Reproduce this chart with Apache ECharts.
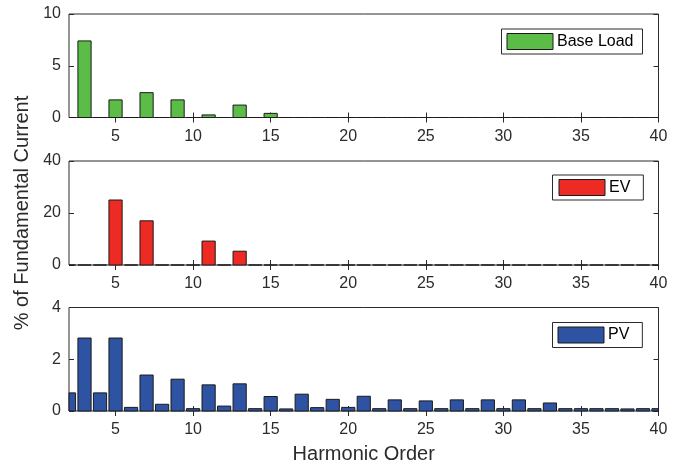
<!DOCTYPE html>
<html>
<head>
<meta charset="utf-8">
<script src="https://cdn.jsdelivr.net/npm/echarts@6/dist/echarts.min.js"></script>
<style>
  html, body { margin: 0; padding: 0; background: #fff; }
  #chart { width: 681px; height: 466px; }
</style>
</head>
<body>
<div id="chart"></div>
<script>
// Harmonic orders 2..40
const harmonics = [2, 3, 4, 5, 6, 7, 8, 9, 10, 11, 12, 13, 14, 15, 16, 17, 18, 19, 20,
  21, 22, 23, 24, 25, 26, 27, 28, 29, 30, 31, 32, 33, 34, 35, 36, 37, 38, 39, 40];

// Harmonic current spectra, % of fundamental
const baseLoad = [0, 7.4, 0, 1.7, 0, 2.4, 0, 1.7, 0, 0.25, 0, 1.2, 0, 0.4,
  0, 0, 0, 0, 0, 0, 0, 0, 0, 0, 0, 0, 0, 0, 0, 0, 0, 0, 0, 0, 0, 0, 0, 0, 0];
const ev = [0, 0, 0, 25, 0, 17, 0, 0, 0, 9.2, 0, 5.3,
  0, 0, 0, 0, 0, 0, 0, 0, 0, 0, 0, 0, 0, 0, 0, 0, 0, 0, 0, 0, 0, 0, 0, 0, 0, 0, 0];
const pv = [0.70, 2.82, 0.70, 2.82, 0.14, 1.39, 0.26, 1.23, 0.09, 1.01, 0.19, 1.05, 0.09, 0.56,
  0.08, 0.65, 0.13, 0.45, 0.14, 0.57, 0.09, 0.43, 0.09, 0.39, 0.09, 0.43, 0.09, 0.43,
  0.09, 0.43, 0.09, 0.31, 0.09, 0.09, 0.09, 0.09, 0.08, 0.09, 0.09];

// Axis ticks
const xTicks = [5, 10, 15, 20, 25, 30, 35, 40];
const yRanges = [
  { max: 10, interval: 5 },
  { max: 40, interval: 20 },
  { max: 4, interval: 2 }
];

const seriesNames = ['Base Load', 'EV', 'PV'];
const seriesValues = [baseLoad, ev, pv];
const seriesColors = ['#5CBC48', '#EE2A24', '#2F53A3'];

const FONT = 'Liberation Sans, Arial, Helvetica, sans-serif';
const INK = '#2b2b2b';
const EDGE = '#1a1a1a';
const BAR_FRACTION = 0.85;

const grids = [
  { left: 69, width: 589.5, top: 14, height: 103.5 },
  { left: 69, width: 589.5, top: 161, height: 104 },
  { left: 69, width: 589.5, top: 307.5, height: 103.5 }
];
const legendPos = [
  { left: 501.5, top: 29, padding: [4, 9, 4, 5] },
  { left: 552.5, top: 175, padding: [4, 13, 4, 6] },
  { left: 552.5, top: 322.5, padding: [4, 13, 4, 5] }
];

const tickStyle = { show: true, inside: true, length: 5, lineStyle: { color: INK, width: 1 } };

// Bars clipped to the plot box, so the end bars at orders 2 and 40 are cut in half
function renderBar(params, api) {
  const h = api.value(0);
  const v = api.value(1);
  const top = api.coord([h, v]);
  const base = api.coord([h, 0]);
  const w = api.size([1, 0])[0] * BAR_FRACTION;
  const cs = params.coordSys;
  const shape = echarts.graphic.clipRectByRect(
    { x: top[0] - w / 2, y: top[1], width: w, height: base[1] - top[1] },
    { x: cs.x, y: cs.y, width: cs.width, height: cs.height }
  );
  if (!shape) return null;
  return {
    type: 'rect',
    shape: shape,
    style: { fill: api.visual('color'), stroke: EDGE, lineWidth: 1 }
  };
}

const xAxes = [], yAxes = [], series = [], legends = [];
grids.forEach((g, i) => {
  xAxes.push({
    type: 'value', gridIndex: i, position: 'bottom', min: 2, max: 40,
    axisLine: { show: false }, splitLine: { show: false },
    axisTick: Object.assign({ customValues: xTicks }, tickStyle),
    axisLabel: { customValues: xTicks, color: INK, fontSize: 16, fontFamily: FONT, margin: 11 },
    name: i === 2 ? 'Harmonic Order' : '',
    nameLocation: 'middle', nameGap: 33,
    nameTextStyle: { color: INK, fontSize: 20, fontFamily: FONT }
  });
  xAxes.push({
    type: 'value', gridIndex: i, position: 'top', min: 2, max: 40,
    axisLine: { show: false }, splitLine: { show: false },
    axisTick: Object.assign({ customValues: xTicks }, tickStyle),
    axisLabel: { show: false }
  });
  yAxes.push({
    type: 'value', gridIndex: i, position: 'left', min: 0,
    max: yRanges[i].max, interval: yRanges[i].interval,
    axisLine: { show: false }, splitLine: { show: false },
    axisTick: tickStyle,
    axisLabel: { color: INK, fontSize: 16, fontFamily: FONT, margin: 8 },
    name: i === 1 ? '% of Fundamental Current' : '',
    nameLocation: 'middle', nameGap: 34,
    nameTextStyle: { color: INK, fontSize: 20, fontFamily: FONT }
  });
  yAxes.push({
    type: 'value', gridIndex: i, position: 'right', min: 0,
    max: yRanges[i].max, interval: yRanges[i].interval,
    axisLine: { show: false }, splitLine: { show: false },
    axisTick: tickStyle,
    axisLabel: { show: false }
  });
  series.push({
    type: 'custom', name: seriesNames[i],
    xAxisIndex: i * 2, yAxisIndex: i * 2,
    renderItem: renderBar,
    encode: { x: 0, y: 1 },
    data: harmonics.map((h, k) => [h, seriesValues[i][k]]),
    itemStyle: { color: seriesColors[i], borderColor: EDGE, borderWidth: 1 },
    emphasis: { disabled: true },
    animation: false
  });
  legends.push({
    data: [seriesNames[i]],
    left: legendPos[i].left, top: legendPos[i].top,
    padding: legendPos[i].padding,
    orient: 'horizontal',
    backgroundColor: '#fff',
    borderColor: INK, borderWidth: 1,
    itemWidth: 46, itemHeight: 16,
    icon: 'rect',
    selectedMode: false,
    textStyle: { color: '#000', fontSize: 16, fontFamily: FONT, padding: [0, 0, 0, -1] },
    itemStyle: { color: seriesColors[i], borderColor: EDGE, borderWidth: 1 }
  });
});

const chart = echarts.init(document.getElementById('chart'), null, { renderer: 'canvas' });
chart.setOption({
  backgroundColor: '#fff',
  animation: false,
  grid: grids.map(g => Object.assign({ show: true, borderColor: INK, borderWidth: 1, backgroundColor: 'transparent' }, g)),
  xAxis: xAxes,
  yAxis: yAxes,
  legend: legends,
  series: series
});
</script>
</body>
</html>
